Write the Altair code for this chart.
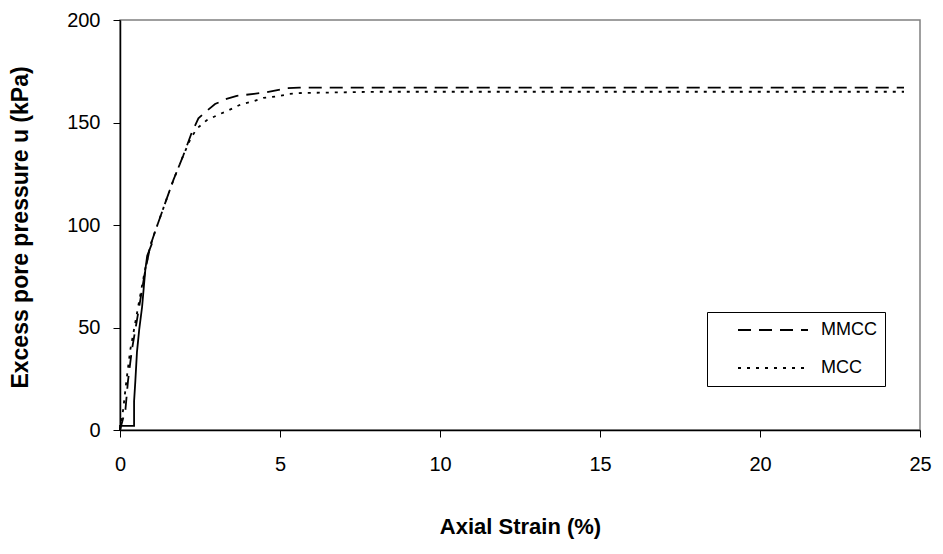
import altair as alt
import pandas as pd

# MMCC (dashed)
mmcc_x = [0, 0.17, 0.25, 0.37, 0.48, 0.62, 0.78, 0.95, 1.1, 1.35, 1.67, 1.98, 2.24, 2.45,
          2.66, 2.97, 3.33, 3.65, 4.58, 5.2, 5.6, 10, 15, 20, 24.5]
mmcc_y = [0, 10, 24, 39, 49, 62, 77, 90, 97, 108, 122, 134, 145, 152,
          155, 159, 161.5, 163, 164.7, 166.7, 167, 167, 167, 167, 167]

# MCC (dotted)
mcc_x = [0, 0.1, 0.2, 0.32, 0.45, 0.6, 0.78, 0.95, 1.1, 1.35, 1.67, 1.98, 2.2, 2.4,
         2.7, 3.1, 3.4, 3.8, 4.17, 4.48, 4.95, 5.3, 5.7, 8, 15, 20, 24.5]
mcc_y = [0, 10, 24, 39, 50, 63, 78, 90, 97, 108, 122, 134, 142, 147,
         151, 154, 156, 159, 160.3, 162, 162.8, 164, 164.4, 165, 165, 165, 165]

# Solid step curve near the origin (no legend entry)
solid_x = [0, 0, 0.44, 0.44, 0.48, 0.53, 0.6, 0.69, 0.79, 0.85, 1.0]
solid_y = [0, 2, 2, 14, 24, 38, 49, 60, 78, 85, 91]

rows = []
for i, (x, y) in enumerate(zip(mmcc_x, mmcc_y)):
    rows.append({"strain": x, "u": y, "model": "MMCC", "i": i})
for i, (x, y) in enumerate(zip(mcc_x, mcc_y)):
    rows.append({"strain": x, "u": y, "model": "MCC", "i": i})
df = pd.DataFrame(rows)
df_solid = pd.DataFrame({"strain": solid_x, "u": solid_y, "i": list(range(len(solid_x)))})

font = "Liberation Sans"

x_enc = alt.X("strain:Q",
              scale=alt.Scale(domain=[0, 25], nice=False),
              axis=alt.Axis(values=[0, 5, 10, 15, 20, 25], title="Axial Strain (%)",
                            grid=False, tickSize=7, labelPadding=17,
                            labelFlush=False,
                            titleFontSize=22,
                            titleY=86, titleBaseline="top"))
y_enc = alt.Y("u:Q",
              scale=alt.Scale(domain=[0, 200], nice=False),
              axis=alt.Axis(values=[0, 50, 100, 150, 200],
                            title="Excess pore pressure u (kPa)",
                            grid=False, tickSize=7, labelPadding=13,
                            labelFlush=False,
                            titleFontSize=23,
                            titleX=-100, titleY=207, titleBaseline="middle",
                            titleAlign="center"))

lines = alt.Chart(df).mark_line(color="black", strokeWidth=1.8).encode(
    x=x_enc,
    y=y_enc,
    order="i:Q",
    strokeDash=alt.StrokeDash(
        "model:N",
        scale=alt.Scale(domain=["MMCC", "MCC"], range=[[13, 8], [3, 6]]),
        legend=alt.Legend(
            title=None, orient="none", legendX=587, legendY=292,
            strokeColor="black", padding=8, fillColor="white",
            symbolType="stroke", symbolSize=4900, symbolStrokeWidth=2,
            symbolStrokeColor="black", symbolOffset=22, clipHeight=20,
            rowPadding=18, labelOffset=12, labelFontSize=18, labelFont=font,
            labelColor="black", labelLimit=250,
        ),
    ),
)

solid = alt.Chart(df_solid).mark_line(color="black", strokeWidth=1.8).encode(
    x="strain:Q", y="u:Q", order="i:Q"
)

chart = alt.layer(lines, solid).properties(
    width=800, height=410,
    autosize=alt.AutoSizeParams(type="none"),
    padding={"left": 120, "top": 20, "right": 23, "bottom": 124},
    background="white",
).configure_view(
    stroke="#808080", strokeWidth=1.5
).configure_axis(
    domainColor="black", domainWidth=1.5, tickColor="black",
    labelFont=font, labelFontSize=20, labelColor="black",
    titleFont=font, titleFontWeight="bold", titleColor="black",
)

chart.save("out.html", embed_options={"renderer": "svg", "actions": False})
